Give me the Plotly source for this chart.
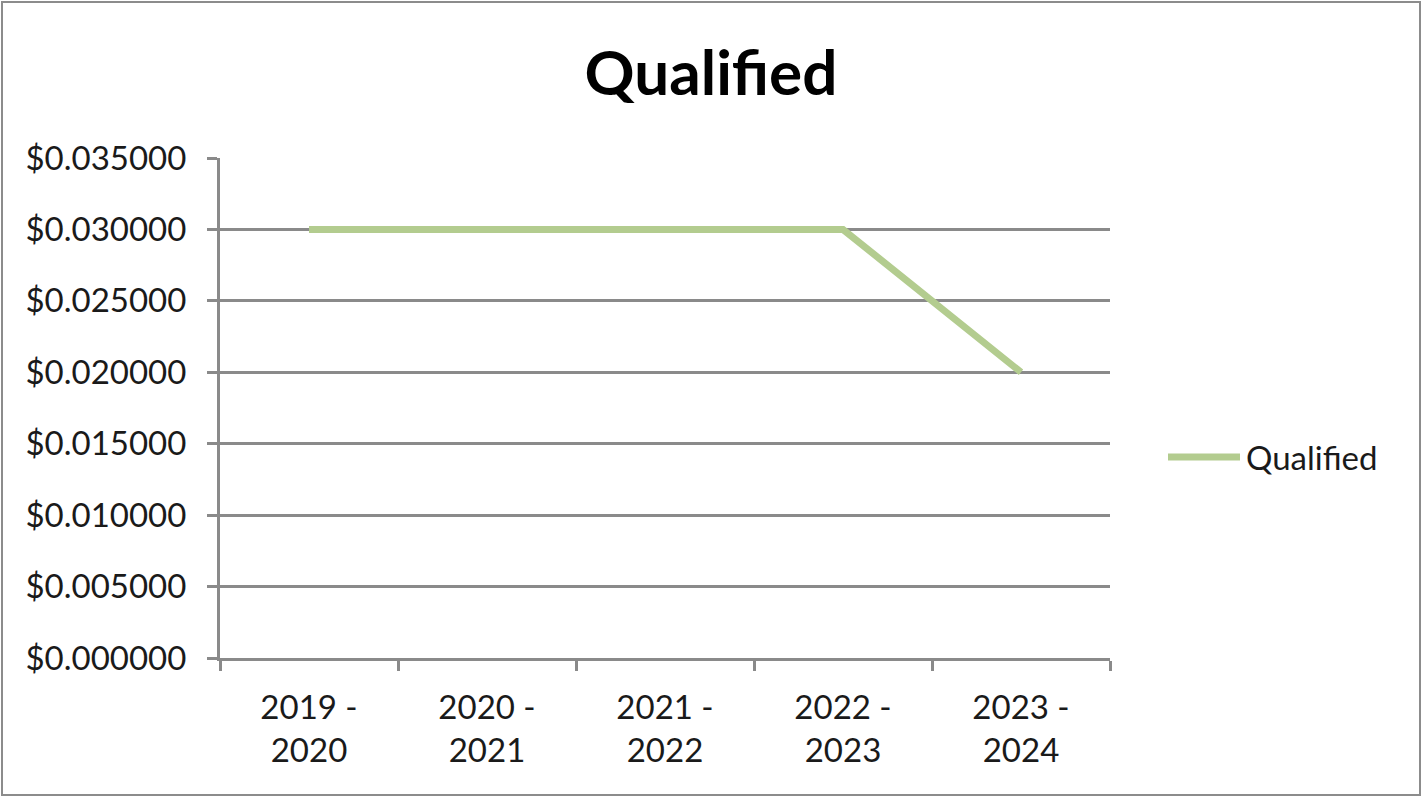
import plotly.graph_objects as go

categories = ["2019 -<br>2020", "2020 -<br>2021", "2021 -<br>2022", "2022 -<br>2023", "2023 -<br>2024"]
qualified = [0.03, 0.03, 0.03, 0.03, 0.02]
y_ticks = [0.0, 0.005, 0.01, 0.015, 0.02, 0.025, 0.03, 0.035]
series_name = "Qualified"

W, H = 1422, 797
L, R, T, B = 220, 312, 158, 139
pw, ph = W - L - R, H - T - B

FONT = "Lato, Carlito, Calibri, sans-serif"
GRID = "#8a8a8a"
LINE = "#B3CC8F"
TXT = "#1a1a1a"

fig = go.Figure()
fig.add_trace(go.Scatter(
    x=categories, y=qualified, mode="lines", name=series_name,
    line=dict(color=LINE, width=7), showlegend=False,
))

def px_x(p):
    return (p - L) / pw

def px_y(p):
    return (H - B - p) / ph

fig.update_layout(
    width=W, height=H,
    margin=dict(l=L, r=R, t=T, b=B),
    paper_bgcolor="white", plot_bgcolor="white",
    font=dict(family=FONT, size=33, color=TXT),
    title=dict(text="<b>Qualified</b>", x=0.5, xanchor="center", y=1 - 73 / H, yanchor="middle",
               font=dict(family=FONT, size=62, color="black")),
    showlegend=False,
    xaxis=dict(type="category", range=[-0.5, 4.5], tickson="boundaries", ticks="outside", ticklen=10,
               tickcolor=GRID, tickwidth=3, showgrid=False, showline=True,
               linecolor=GRID, linewidth=3, tickfont=dict(family=FONT, size=33, color=TXT),
               ticklabelstandoff=18, fixedrange=True),
    yaxis=dict(range=[0, 0.035], tickvals=y_ticks, tickformat="$.6f", ticks="outside",
               ticklen=10, tickcolor=GRID, tickwidth=3, showgrid=True, gridcolor=GRID,
               gridwidth=3, showline=True, linecolor=GRID, linewidth=3, zeroline=False,
               tickfont=dict(family=FONT, size=33, color=TXT), ticklabelstandoff=14,
               fixedrange=True),
    shapes=[
        dict(type="rect", xref="paper", yref="paper",
             x0=px_x(2), x1=px_x(W - 2), y0=px_y(H - 2), y1=px_y(2),
             line=dict(color="#8c8c8c", width=2), fillcolor="rgba(0,0,0,0)", layer="below"),
        dict(type="line", xref="paper", yref="paper",
             x0=px_x(1168), x1=px_x(1240), y0=px_y(457), y1=px_y(457),
             line=dict(color=LINE, width=7)),
    ],
    annotations=[dict(text=series_name, xref="paper", yref="paper", x=px_x(1244), y=px_y(457),
                      xanchor="left", yanchor="middle", showarrow=False,
                      font=dict(family=FONT, size=33, color=TXT))],
)

fig.write_html("out.html")
